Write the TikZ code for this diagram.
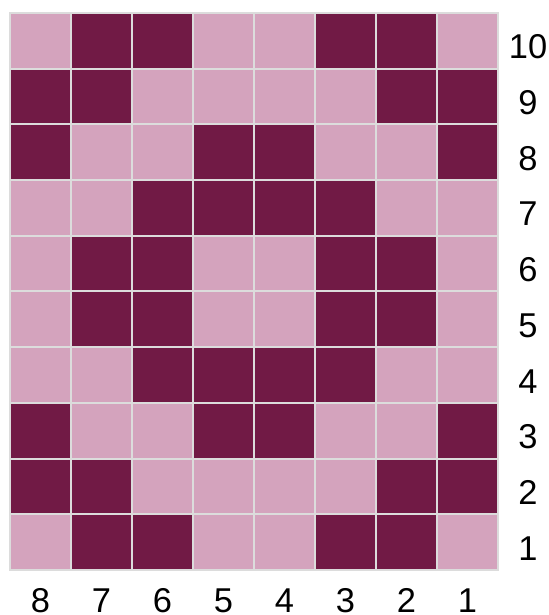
\documentclass[tikz,border=0pt]{standalone}
\usepackage{fontspec}
\setsansfont{Liberation Sans}
\usepackage{xcolor}
\usepackage{tikz}
\usetikzlibrary{positioning}
\definecolor{beaddark}{HTML}{711A45}
\definecolor{beadlight}{HTML}{D4A3BD}
\definecolor{gridline}{HTML}{DCDCDC}

\begin{document}
\begin{tikzpicture}[
  font=\sffamily\fontsize{9.8}{11}\selectfont,
  cell/.style={rectangle, draw=gridline, line width=0.02cm, inner sep=0pt,
               minimum width=0.61cm, minimum height=0.557cm},
  dk/.style={cell, fill=beaddark},
  lt/.style={cell, fill=beadlight},
  lbl/.style={inner sep=0pt, anchor=base}
]
%% margins of the page
\useasboundingbox (-0.10,-0.45) rectangle (5.39,5.70);
%% cells, rows listed from 1 (bottom) to 10 (top), columns from left
\foreach \pat [count=\r] in {
    {0,1,1,0,0,1,1,0},
    {1,1,0,0,0,0,1,1},
    {1,0,0,1,1,0,0,1},
    {0,0,1,1,1,1,0,0},
    {0,1,1,0,0,1,1,0},
    {0,1,1,0,0,1,1,0},
    {0,0,1,1,1,1,0,0},
    {1,0,0,1,1,0,0,1},
    {1,1,0,0,0,0,1,1},
    {0,1,1,0,0,1,1,0}} {
  \foreach \v [count=\c] in \pat {
    \ifnum\v=1
      \node[dk] (cell-\c-\r) at ({(\c-0.5)*0.61}, {(\r-0.5)*0.557}) {};
    \else
      \node[lt] (cell-\c-\r) at ({(\c-0.5)*0.61}, {(\r-0.5)*0.557}) {};
    \fi
  }
}
%% row numbers on the right
\foreach \r in {1,...,10}
  \node[lbl] (row-\r) at (5.18, {(\r-0.5)*0.557-0.18}) {\r};
%% column numbers below, counted from the right
\foreach \c in {1,...,8} {
  \pgfmathtruncatemacro{\num}{9-\c}
  \node[lbl] (col-\num) at ({(\c-0.5)*0.61}, -0.42) {\num};
}
\end{tikzpicture}
\end{document}
